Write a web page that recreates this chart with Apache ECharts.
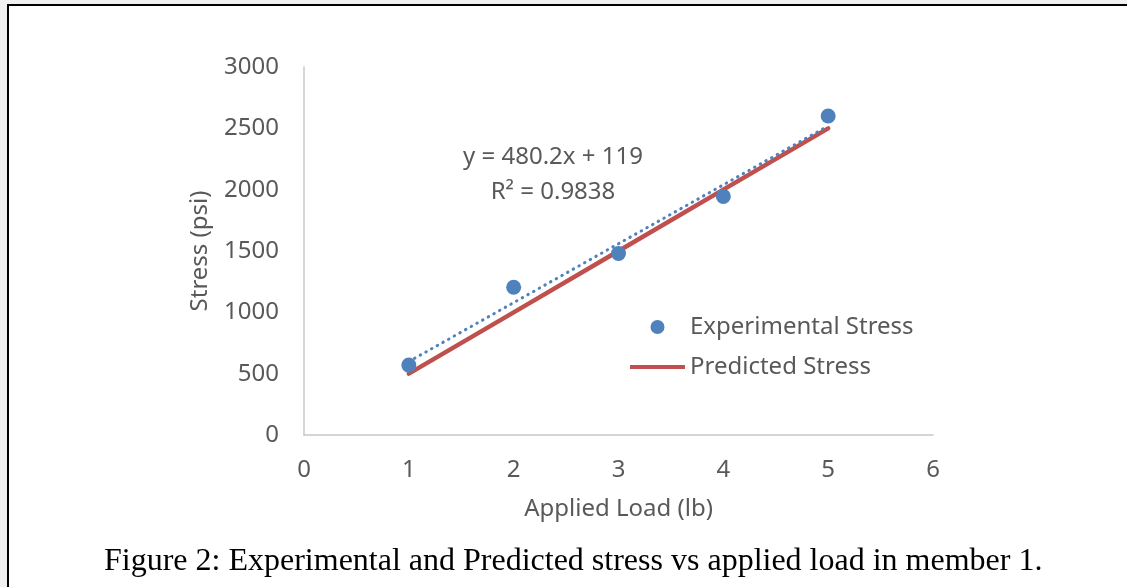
<!DOCTYPE html>
<html>
<head>
<meta charset="utf-8">
<script src="https://cdn.jsdelivr.net/npm/echarts@6/dist/echarts.min.js"></script>
<style>
  html, body { margin: 0; padding: 0; background: #f0f0f0; }
  #frame {
    position: absolute; left: 7px; top: 4px; width: 1130px; height: 600px;
    background: #fff; border-left: 2px solid #000; border-top: 2px solid #000;
  }
  #main { position: absolute; left: 0; top: 0; width: 1127px; height: 587px; }
</style>
</head>
<body>
<div id="frame"></div>
<div id="main"></div>
<script>
// applied load (lb)
const loads = [1, 2, 3, 4, 5];
// measured stress (psi)
const experimental = [570, 1205, 1480, 1945, 2600];
// predicted stress (psi)
const predicted = [500, 1000, 1500, 2000, 2500];
// linear trendline end points (y = 480.2x + 119)
const trendX = [1, 5];
const trendY = [599.2, 2520.0];
const trendText = ["y = 480.2x + 119", "R² = 0.9838"];

const font = "Noto Sans";
const grey = "#595959";
const fs = 24;

const myChart = echarts.init(document.getElementById("main"));

// flat line icon for the legend, padded so it keeps its thickness
const lineIcon = "path://M0,0 M0,5 L55,5 L55,9 L0,9 Z M55,14";

const option = {
  backgroundColor: "transparent",
  animation: false,
  title: {
    text: "Figure 2: Experimental and Predicted stress vs applied load in member 1.",
    left: 104,
    top: 546,
    padding: 0,
    textStyle: {
      fontFamily: "Liberation Serif",
      fontWeight: "normal",
      fontSize: 32,
      color: "#000",
    },
  },
  grid: { left: 304, right: 194, top: 67, bottom: 152 },
  legend: {
    orient: "vertical",
    left: 630,
    top: 315,
    padding: 0,
    itemWidth: 55,
    itemHeight: 14,
    itemGap: 16,
    data: [
      { name: "Experimental Stress", icon: "circle" },
      { name: "Predicted Stress", icon: lineIcon },
    ],
    textStyle: { fontFamily: font, fontSize: fs, color: grey },
  },
  xAxis: {
    type: "value",
    min: 0,
    max: 6,
    interval: 1,
    name: "Applied Load (lb)",
    nameLocation: "middle",
    nameGap: 62,
    nameTextStyle: { fontFamily: font, fontSize: fs, color: grey },
    axisLine: { lineStyle: { color: "#c8c8c8", width: 1.5 } },
    axisTick: { show: false },
    splitLine: { show: false },
    axisLabel: { margin: 23, fontFamily: font, fontSize: fs, color: grey },
  },
  yAxis: {
    type: "value",
    min: 0,
    max: 3000,
    interval: 500,
    name: "Stress (psi)",
    nameLocation: "middle",
    nameRotate: 90,
    nameGap: 92,
    nameTextStyle: { fontFamily: font, fontSize: fs, color: grey },
    axisLine: { show: true, lineStyle: { color: "#c8c8c8", width: 1.5 } },
    axisTick: { show: false },
    splitLine: { show: false },
    axisLabel: {
      margin: 25,
      fontFamily: font,
      fontSize: fs,
      color: grey,
      formatter: (v) => String(v),
    },
  },
  graphic: [
    {
      type: "text",
      x: 553,
      y: 175,
      style: {
        text: trendText.join("\n"),
        align: "center",
        verticalAlign: "middle",
        fontFamily: font,
        fontSize: fs,
        lineHeight: 35,
        fill: grey,
      },
    },
  ],
  series: [
    {
      name: "Predicted Stress",
      type: "line",
      symbol: "none",
      data: loads.map((x, i) => [x, predicted[i]]),
      lineStyle: { color: "#C0504D", width: 4.5, cap: "round" },
      itemStyle: { color: "#C0504D" },
      z: 2,
    },
    {
      name: "Trendline",
      type: "line",
      symbol: "none",
      data: trendX.map((x, i) => [x, trendY[i]]),
      lineStyle: { color: "#4F81BD", width: 3, type: [0.5, 6], cap: "round" },
      z: 3,
    },
    {
      name: "Experimental Stress",
      type: "scatter",
      symbol: "circle",
      symbolSize: 15,
      data: loads.map((x, i) => [x, experimental[i]]),
      itemStyle: { color: "#4F81BD", opacity: 1 },
      z: 4,
    },
  ],
};

option && myChart.setOption(option);
</script>
</body>
</html>
